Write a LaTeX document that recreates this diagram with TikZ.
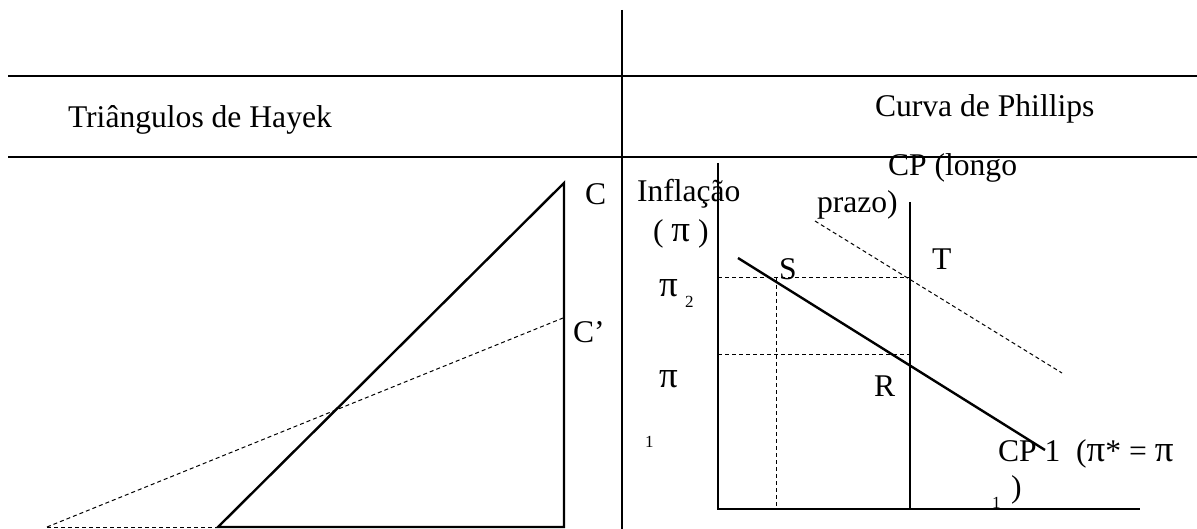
\documentclass[tikz,border=0pt]{standalone}
\usepackage{fontspec}
\setmainfont{Liberation Serif}
\usepackage{tikz}
\usetikzlibrary{positioning}

\newcommand{\bigpi}{{\fontsize{37}{40}\selectfont π}}

\begin{document}
\begin{tikzpicture}[x=1pt, y=-1pt,
  every node/.style={inner sep=0pt, outer sep=0pt, anchor=base west,
                     font=\fontsize{31.6}{36}\selectfont},
  idx/.style={font=\fontsize{17}{20}\selectfont},
  rule/.style={line width=2.6pt},
  curve/.style={line width=2.4pt},
  guide/.style={line width=1pt, dash pattern=on 4pt off 3pt}
]
  \useasboundingbox (0,0) rectangle (1197,529);

  % frame of the table
  \coordinate (divtop) at (622,10);
  \coordinate (divbot) at (622,529);
  \coordinate (r1l) at (8,76);    \coordinate (r1r) at (1197,76);
  \coordinate (r2l) at (8,157);   \coordinate (r2r) at (1197,157);
  \draw[rule] (divtop) -- (divbot);
  \draw[rule] (r1l) -- (r1r);
  \draw[rule] (r2l) -- (r2r);

  \node (hayek)    at (68,128)  {Triângulos de Hayek};
  \node (phillips) at (875,117) {Curva de Phillips};

  % Hayek triangles
  \coordinate (base0) at (47,527);
  \coordinate (baseA) at (218,527);
  \coordinate (baseB) at (564,527);
  \coordinate (topC)  at (564,183);
  \coordinate (topCc) at (563,318);
  \draw[curve, line join=miter] (baseA) -- (baseB) -- (topC) -- cycle;
  \draw[guide] (base0) -- (baseA);
  \draw[guide] (base0) -- (topCc);
  \node (labC)  at (585,205) {C};
  \node (labCc) at (573,343) {C’};

  % Phillips curve
  \coordinate (ytop)  at (718,163);
  \coordinate (orig)  at (718,509);
  \coordinate (xend)  at (1140,509);
  \coordinate (lrtop) at (910,202);
  \coordinate (lrbot) at (910,509);
  \coordinate (cpa)   at (738,258);
  \coordinate (cpb)   at (1045,450);
  \coordinate (cpc)   at (815,221);
  \coordinate (cpd)   at (1062,373);
  \coordinate (hiL)   at (718,278);  \coordinate (hiR) at (910,278);
  \coordinate (loL)   at (718,355);  \coordinate (loR) at (910,355);
  \coordinate (sTop)  at (776,278);  \coordinate (sBot) at (776,509);

  \draw[curve] (ytop) -- (orig) -- (xend);
  \draw[curve] (lrtop) -- (lrbot);
  \draw[curve] (cpa) -- (cpb);
  \draw[guide] (cpc) -- (cpd);
  \draw[guide] (hiL) -- (hiR);
  \draw[guide] (loL) -- (loR);
  \draw[guide] (sTop) -- (sBot);

  \node (infl)   at (637,202) {Inflação};
  \node (inflpi) at (653,242) {( \bigpi\ )};
  \node (pitwo)  at (659,297) {\bigpi};
  \node[idx] (subtwo) at (685,308) {2};
  \node (pione)  at (659,387) {\bigpi};
  \node[idx] (subone) at (645,447) {1};
  \node (labS)   at (779,280) {S};
  \node (labT)   at (932,270) {T};
  \node (labR)   at (874,396) {R};
  \node (lrname) at (888,176) {CP (longo};
  \node (lrterm) at (817,213) {prazo)};
  \node (cpname) at (998,461) {CP 1\ \ (\bigpi* = \bigpi};
  \node (cpclose) at (1011,497) {)};
  \node[idx] (cpsub) at (992,508) {1};
\end{tikzpicture}
\end{document}
